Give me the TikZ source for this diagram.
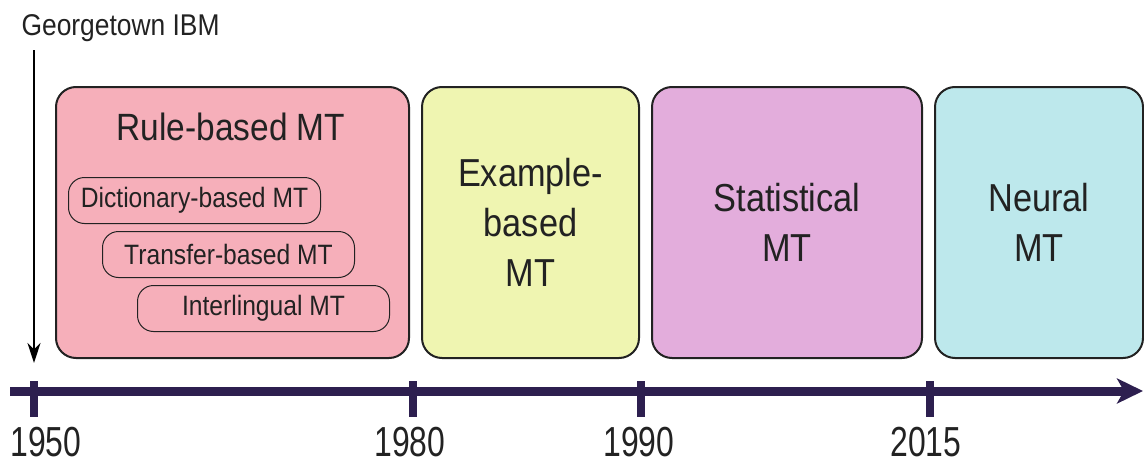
\documentclass[tikz,border=0pt]{standalone}
\usepackage{fontspec}
\setmainfont{Liberation Sans}[FakeStretch=0.88]
\newfontfamily\yearfont{Liberation Sans}[FakeStretch=0.76]
\usetikzlibrary{arrows.meta}

\definecolor{rulepink}{HTML}{F6AFBA}
\definecolor{examplelime}{HTML}{EFF5B1}
\definecolor{statpurple}{HTML}{E3ADDC}
\definecolor{neuralcyan}{HTML}{BDE8EC}
\definecolor{lineviolet}{HTML}{2D1F4F}
\definecolor{inkgray}{HTML}{222222}

\begin{document}
\begin{tikzpicture}[x=1pt,y=-1pt,text=inkgray,
  era/.style={draw=inkgray,line width=2pt,rounded corners=20pt,anchor=north west,
    minimum height=271pt,align=center,font=\fontsize{39}{50}\selectfont},
  sub node/.style={draw=inkgray,line width=1pt,rounded corners=16pt,anchor=north west,
    minimum width=252pt,minimum height=46pt,font=\fontsize{28}{30}\selectfont},
  year node/.style={anchor=base,inner sep=0pt,font=\yearfont\fontsize{42}{44}\selectfont}]

  \useasboundingbox (0,0) rectangle (1144,466);

  % eras
  \node[era,fill=rulepink,minimum width=353pt] (rule) at (55,86) {};
  \node[era,fill=examplelime,minimum width=217pt] (example) at (421,86) {Example-\\based\\MT};
  \node[era,fill=statpurple,minimum width=270pt] (stat) at (651,86) {Statistical\\MT};
  \node[era,fill=neuralcyan,minimum width=208pt] (neural) at (934,86) {Neural\\MT};

  \node[anchor=base,font=\fontsize{38}{40}\selectfont] (ruletitle) at (231,140) {Rule-based MT};
  \node[sub node] (dict) at (68,177) {Dictionary-based MT};
  \node[sub node] (transfer) at (102,231) {Transfer-based MT};
  \node[sub node] (inter) at (137,285) {Interlingual MT};

  % georgetown
  \node[anchor=base west,font=\fontsize{30}{32}\selectfont] (ibm) at (18,35) {Georgetown IBM};
  \coordinate (ibmtop) at (34,50);
  \coordinate (ibmend) at (34,363);
  \draw[line width=2pt,-{Stealth[length=20pt,width=13pt]}] (ibmtop) -- (ibmend);

  % timeline
  \coordinate (tstart) at (10,391);
  \coordinate (tend) at (1143,391);
  \draw[lineviolet,line width=9pt,-{Stealth[length=26pt,width=25pt,inset=7pt]}] (tstart) -- (tend);
  \foreach \x/\lx/\yr in {34/46/1950,413/410/1980,641/639/1990,930/926/2015}{
    \draw[lineviolet,line width=8pt] (\x,381) -- (\x,417);
    \node[year node] (y\yr) at (\lx,456) {\yr};
  }
\end{tikzpicture}
\end{document}
